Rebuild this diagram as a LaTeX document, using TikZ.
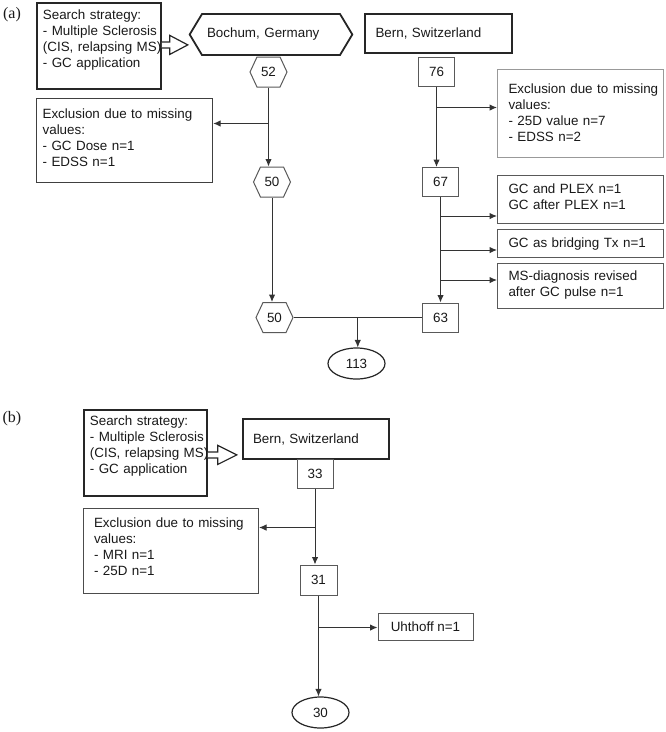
\documentclass[tikz,border=0pt]{standalone}
\usepackage{fontspec}
\setmainfont{Liberation Sans}
\newfontfamily\serifpanel{Liberation Serif}
\usetikzlibrary{shapes.symbols,shapes.geometric,arrows.meta,calc}
\begin{document}
\begin{tikzpicture}[x=1pt,y=-1pt,
  every node/.style={font=\fontsize{13.4}{16}\selectfont, text=black!90},
  panel/.style={font=\serifpanel\fontsize{16}{18}\selectfont, inner sep=0pt},
  heavy/.style={draw=black!85, line width=1.8pt},
  numbox/.style={rectangle, draw=black!65, line width=1pt, minimum width=36pt, minimum height=29pt, inner sep=0pt},
  hexnum/.style={signal, signal to=west and east, signal pointer angle=130, draw=black!65, line width=1pt, minimum width=37pt, minimum height=30pt, inner sep=0pt},
  tbox/.style={rectangle, anchor=north west, align=left, inner ysep=0pt},
  conn/.style={draw=black!80, line width=1pt},
  arr/.style={conn, -{Latex[length=7.5pt,width=6.5pt]}},
  hollow/.style={draw=black!85, line width=1.2pt, fill=white, line join=miter},
  oval/.style={ellipse, draw=black!85, line width=1.2pt, minimum width=57pt, minimum height=31pt, inner sep=0pt},
]
\useasboundingbox (0,0) rectangle (666,732);

% ---------------- panel (a) ----------------
\node[panel] (la) at (12,15) {(a)};

\node[tbox, heavy, text width=112pt, inner xsep=6pt, text height=16.6pt, text depth=69.4pt] (sa) at (36,2)
  {Search strategy:\\\mbox{- Multiple Sclerosis}\\\mbox{(CIS, relapsing MS)}\\- GC application};

\node[signal, signal to=west and east, signal pointer angle=118, heavy, minimum height=41pt,
      text width=128pt, align=left, inner xsep=5pt, inner ysep=0pt] (bo) at (271,34.5) {Bochum, Germany};

\draw[hollow] ($(sa.east)+(0,-4)$) -- ++(8,0) -- ++(0,-6.5) -- ++(18,9.5) -- ++(-18,9.5) -- ++(0,-6.5) -- ++(-8,0);

\node[rectangle, heavy, text width=126pt, inner xsep=10.5pt, inner ysep=0pt, minimum height=39pt, align=left] (bea) at (438.5,33.5) {Bern, Switzerland};

\node[hexnum] (n52) at (268.5,72) {52};
\node[hexnum] (n50a) at (272,182) {50};
\node[hexnum] (n50b) at (274.5,317.5) {50};

\node[numbox] (n76) at (436.5,71.5) {76};
\node[numbox] (n67) at (440.5,182) {67};
\node[numbox] (n63) at (440.5,317.5) {63};

\node[tbox, draw=black!75, line width=1.2pt, text width=164pt, inner xsep=6pt, text height=19.5pt, text depth=64.5pt] (ea) at (36,98)
  {\mbox{Exclusion due to missing}\\values:\\- GC Dose n=1\\- EDSS n=1};

\node[tbox, draw=black!40, line width=1pt, text width=144pt, inner xsep=11pt, text height=23.5pt, text depth=64.5pt] (eb) at (497,69)
  {\mbox{Exclusion due to missing}\\values:\\- 25D value n=7\\- EDSS n=2};

\node[tbox, draw=black!65, line width=1pt, text width=144pt, inner xsep=11pt, text height=17.7pt, text depth=30.3pt] (gp) at (497,175)
  {GC and PLEX n=1\\GC after PLEX n=1};
\node[tbox, draw=black!65, line width=1pt, text width=144pt, inner xsep=11pt, text height=17.5pt, text depth=10.5pt] (gb) at (497,229)
  {\mbox{GC as bridging Tx n=1}};
\node[tbox, draw=black!65, line width=1pt, text width=144pt, inner xsep=11pt, text height=17pt, text depth=28pt] (ms) at (497,263)
  {\mbox{MS-diagnosis revised}\\\mbox{after GC pulse n=1}};

\node[oval] (e113) at (356.5,363.5) {113};

\draw[arr] (n52.south) -- (n52.south |- n50a.north);
\path (n52.south) ++(0,36) coordinate (ja);
\draw[arr] (ja) -- (ja -| ea.east);
\draw[arr] (n50a.south) -- (n50a.south |- n50b.north);

\draw[arr] (n76.south) -- (n76.south |- n67.north);
\path (n76.south) ++(0,21) coordinate (jb);
\draw[arr] (jb) -- (jb -| eb.west);

\draw[arr] (n67.south) -- (n67.south |- n63.north);
\path (n67.south) ++(0,19) coordinate (j1);
\path (n67.south) ++(0,53) coordinate (j2);
\path (n67.south) ++(0,83) coordinate (j3);
\draw[arr] (j1) -- (j1 -| gp.west);
\draw[arr] (j2) -- (j2 -| gb.west);
\draw[arr] (j3) -- (j3 -| ms.west);

\draw[conn] (n50b.east) -- (n63.west);
\coordinate (jm) at ($(n50b.east)!0.5!(n63.west)$);
\draw[arr] (jm) -- (jm |- e113.north);

% ---------------- panel (b) ----------------
\node[panel] (lb) at (12,418.5) {(b)};

\node[tbox, heavy, text width=111pt, inner xsep=6pt, text height=16pt, text depth=70pt] (sb) at (83,409)
  {Search strategy:\\\mbox{- Multiple Sclerosis}\\\mbox{(CIS, relapsing MS)}\\- GC application};

\draw[hollow] ($(sb.east)+(0,-1)$) -- ++(10,0) -- ++(0,-6.5) -- ++(19,9.5) -- ++(-19,9.5) -- ++(0,-6.5) -- ++(-10,0);

\node[rectangle, heavy, text width=126pt, inner xsep=10pt, inner ysep=0pt, minimum height=40pt, align=left] (beb) at (316,439) {Bern, Switzerland};

\node[numbox] (n33) at (315,473.5) {33};
\node[numbox, minimum width=37pt, minimum height=30pt] (n31) at (318.5,580) {31};

\node[tbox, draw=black!70, line width=1pt, text width=154pt, inner xsep=10.5pt, text height=18.7pt, text depth=66.3pt] (exb) at (83,508)
  {\mbox{Exclusion due to missing}\\values:\\- MRI n=1\\- 25D n=1};

\node[rectangle, draw=black!65, line width=1pt, minimum width=95pt, minimum height=27pt, inner sep=0pt] (uh) at (425.5,626.5) {Uhthoff n=1};

\node[oval] (e30) at (320.5,712.5) {30};

\draw[arr] (n33.south) -- (n33.south |- n31.north);
\path (n33.south) ++(0,39) coordinate (jc);
\draw[arr] (jc) -- (jc -| exb.east);
\draw[arr] (n31.south) -- (n31.south |- e30.north);
\path (n31.south) ++(0,32) coordinate (jd);
\draw[arr] (jd) -- (jd -| uh.west);
\end{tikzpicture}
\end{document}
